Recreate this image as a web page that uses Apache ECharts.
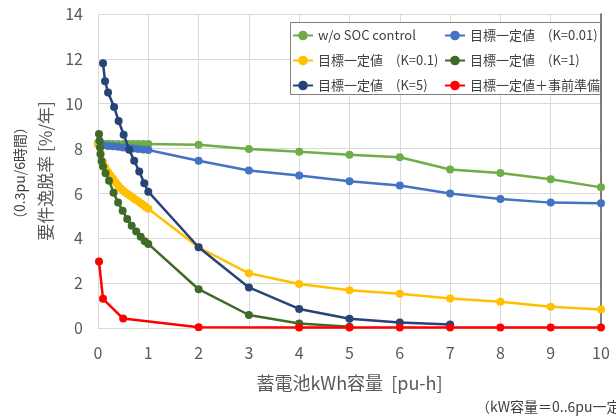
<!DOCTYPE html>
<html>
<head>
<meta charset="utf-8">
<script src="https://cdn.jsdelivr.net/npm/echarts@6/dist/echarts.min.js"></script>
<style>
  html, body { margin: 0; padding: 0; background: #fff; }
  #chart { width: 616px; height: 416px; }
</style>
</head>
<body>
<div id="chart"></div>
<script>
// Battery kWh capacity [pu-h] and requirement violation rate [%/year]
const xTicks = [0, 1, 2, 3, 4, 5, 6, 7, 8, 9, 10];
const yTicks = [0, 2, 4, 6, 8, 10, 12, 14];

const seriesNames = [
  'w/o SOC control',
  '目標一定値　(K=0.01)',
  '目標一定値　(K=0.1)',
  '目標一定値　(K=1)',
  '目標一定値　(K=5)',
  '目標一定値＋事前準備'
];
const seriesColors = ['#70AD47', '#4472C4', '#FFC000', '#3F6A27', '#264478', '#FF0000'];

const xWoSoc = [0, 0.1, 0.2, 0.3, 0.4, 0.5, 0.6, 0.7, 0.8, 0.9, 1, 2, 3, 4, 5, 6, 7, 8, 9, 10];
const yWoSoc = [8.25, 8.22, 8.22, 8.2, 8.2, 8.2, 8.2, 8.2, 8.2, 8.2, 8.2, 8.17, 7.98, 7.86, 7.73, 7.61, 7.07, 6.91, 6.63, 6.27];

const xK001 = [0, 0.1, 0.2, 0.3, 0.4, 0.5, 0.6, 0.7, 0.8, 0.9, 1, 2, 3, 4, 5, 6, 7, 8, 9, 10];
const yK001 = [8.2, 8.15, 8.12, 8.1, 8.08, 8.05, 8.03, 8.0, 7.98, 7.96, 7.94, 7.46, 7.02, 6.8, 6.54, 6.35, 6.0, 5.75, 5.59, 5.56];

const xK01 = [0, 0.05, 0.1, 0.15, 0.2, 0.25, 0.3, 0.35, 0.4, 0.45, 0.5, 0.55, 0.6, 0.65, 0.7, 0.75, 0.8, 0.85, 0.9, 0.95, 1, 2, 3, 4, 5, 6, 7, 8, 9, 10];
const yK01 = [8.2, 7.8, 7.4, 7.15, 6.95, 6.8, 6.65, 6.5, 6.35, 6.23, 6.12, 6.03, 5.95, 5.88, 5.8, 5.72, 5.65, 5.56, 5.48, 5.4, 5.32, 3.6, 2.44, 1.96, 1.68, 1.53, 1.32, 1.17, 0.95, 0.83];

const xK1 = [0.02, 0.03, 0.04, 0.05, 0.07, 0.1, 0.15, 0.22, 0.31, 0.4, 0.49, 0.58, 0.67, 0.76, 0.85, 0.93, 1.0, 2, 3, 4, 5];
const yK1 = [8.65, 8.35, 8.05, 7.75, 7.45, 7.2, 6.9, 6.57, 6.03, 5.59, 5.23, 4.86, 4.56, 4.3, 4.07, 3.87, 3.75, 1.73, 0.58, 0.2, 0.06];

const xK5 = [0.1, 0.14, 0.2, 0.32, 0.41, 0.51, 0.62, 0.72, 0.82, 0.92, 1.0, 2, 3, 4, 5, 6, 7];
const yK5 = [11.8, 11.0, 10.5, 9.85, 9.23, 8.62, 7.95, 7.46, 6.98, 6.45, 6.08, 3.6, 1.81, 0.85, 0.41, 0.24, 0.16];

const xPrep = [0.02, 0.1, 0.5, 2, 4, 5, 6, 7, 8, 9, 10];
const yPrep = [2.96, 1.3, 0.42, 0.03, 0.02, 0.02, 0.02, 0.02, 0.02, 0.02, 0.02];

const xs = [xWoSoc, xK001, xK01, xK1, xK5, xPrep];
const ys = [yWoSoc, yK001, yK01, yK1, yK5, yPrep];

const FONT = '"Noto Sans CJK JP", "Noto Sans", sans-serif';
const TEXT = '#595959';

const series = seriesNames.map((name, i) => ({
  name: name,
  type: 'line',
  data: xs[i].map((x, j) => [x, ys[i][j]]),
  symbol: 'circle',
  symbolSize: 8,
  showSymbol: true,
  color: seriesColors[i],
  lineStyle: { width: 2.5, color: seriesColors[i] },
  itemStyle: { color: seriesColors[i] },
  z: 2 + i * 0.1,
  animation: false
}));

const legendText = { fontFamily: FONT, fontSize: 13, color: '#404040' };

const chart = echarts.init(document.getElementById('chart'), null, { renderer: 'canvas' });
chart.setOption({
  backgroundColor: '#ffffff',
  animation: false,
  grid: { left: 98, right: 15, top: 14, bottom: 88, containLabel: false },
  xAxis: {
    type: 'value',
    min: xTicks[0],
    max: xTicks[xTicks.length - 1],
    interval: 1,
    name: '蓄電池kWh容量  [pu-h]',
    nameLocation: 'middle',
    nameGap: 46,
    nameTextStyle: { fontFamily: FONT, fontSize: 18, color: TEXT },
    axisLine: { show: true, lineStyle: { color: '#d9d9d9', width: 1 } },
    axisTick: { show: false },
    axisLabel: { fontFamily: FONT, fontSize: 16, color: TEXT, margin: 17 },
    splitLine: { show: true, lineStyle: { color: '#d9d9d9', width: 1 } }
  },
  yAxis: [
    {
      type: 'value',
      min: yTicks[0],
      max: yTicks[yTicks.length - 1],
      interval: 2,
      name: '要件逸脱率 [%/年]',
      nameLocation: 'middle',
      nameGap: 42,
      nameTextStyle: { fontFamily: FONT, fontSize: 17, color: TEXT },
      axisLine: { show: true, lineStyle: { color: '#d9d9d9', width: 1 } },
      axisTick: { show: false },
      axisLabel: { fontFamily: FONT, fontSize: 16, color: TEXT, margin: 15 },
      splitLine: { show: true, lineStyle: { color: '#d9d9d9', width: 1 } }
    },
    {
      // dark frame edge on the right side of the plot
      type: 'value',
      position: 'right',
      min: yTicks[0],
      max: yTicks[yTicks.length - 1],
      interval: 2,
      axisLine: { show: true, lineStyle: { color: '#595959', width: 1.5 } },
      axisTick: { show: false },
      axisLabel: { show: false },
      splitLine: { show: false }
    }
  ],
  legend: [
    {
      orient: 'vertical',
      left: 292, top: 29,
      padding: 0,
      itemWidth: 20, itemHeight: 12,
      itemGap: 12,
      textStyle: legendText,
      data: [seriesNames[0], seriesNames[2], seriesNames[4]],
      z: 5
    },
    {
      orient: 'vertical',
      left: 444, top: 29,
      padding: 0,
      itemWidth: 20, itemHeight: 12,
      itemGap: 12,
      textStyle: legendText,
      data: [seriesNames[1], seriesNames[3], seriesNames[5]],
      z: 5
    }
  ],
  graphic: [
    {
      type: 'rect', z: 4,
      shape: { x: 290.5, y: 22.5, width: 310, height: 72 },
      style: { fill: '#ffffff', stroke: '#7f7f7f', lineWidth: 1 }
    },
    {
      type: 'text', z: 5,
      x: 20, y: 173,
      rotation: Math.PI / 2,
      style: {
        text: '（0.3pu/6時間）',
        font: '14px ' + FONT,
        fill: '#404040',
        textAlign: 'center',
        textVerticalAlign: 'middle'
      }
    },
    {
      type: 'text', z: 5,
      x: 476, y: 407,
      style: {
        text: '（kW容量＝0..6pu一定）',
        font: '14px ' + FONT,
        fill: '#404040',
        textAlign: 'left',
        textVerticalAlign: 'middle'
      }
    }
  ],
  series: series
});
</script>
</body>
</html>
